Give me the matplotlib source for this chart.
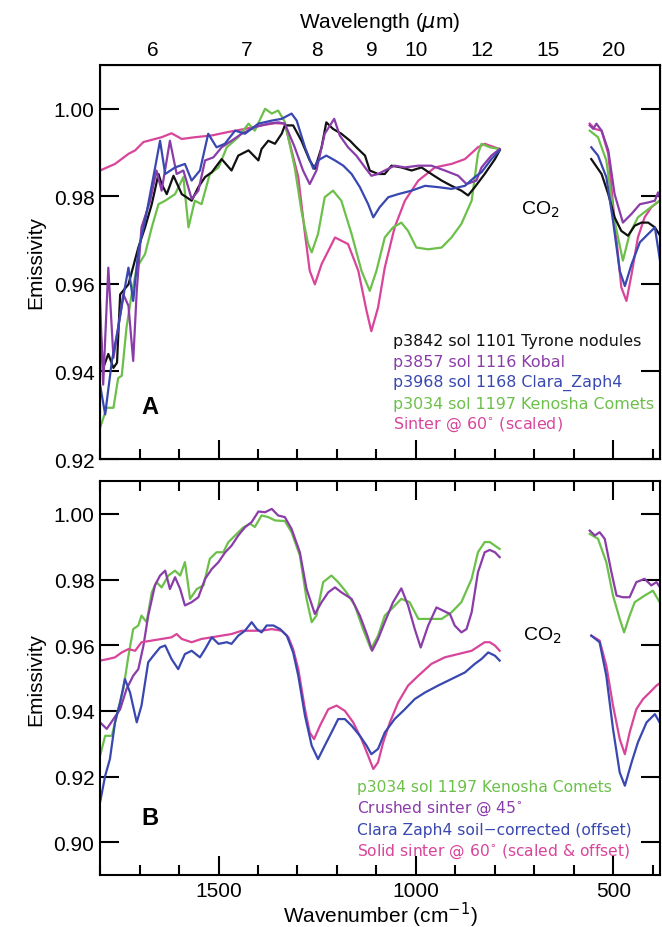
import numpy as np
import matplotlib
matplotlib.use("Agg")
from matplotlib import pyplot as plt
from matplotlib.ticker import MultipleLocator

plt.rcParams['font.family'] = ['Liberation Sans', 'DejaVu Sans']
plt.rcParams['mathtext.fontset'] = 'dejavusans'

nan = np.nan

# ---- panel A: rover spectra + sinter ----
tyrone_wn = [1800, 1792, 1779, 1766, 1757, 1749, 1728, 1703, 1686, 1669, 1652, 1644, 1631, 1614, 1593, 1568,
             1551, 1534, 1517, 1492, 1467, 1450, 1424, 1399, 1391, 1374, 1357, 1340, 1332, 1311, 1290, 1269,
             1256, 1239, 1227, 1210, 1189, 1167, 1151, 1129, 1117, 1096, 1079, 1062, 1037, 1011, 986, 961,
             935, 910, 885, 868, 851, 826, 800, 788, nan,
             556, 530, 513, 497, 480, 463, 446, 429, 412, 395, 379]
tyrone_e = [0.9508, 0.9408, 0.9440, 0.9408, 0.9420, 0.9576, 0.9599, 0.9683, 0.9729, 0.9782, 0.9851, 0.9828,
            0.9805, 0.9847, 0.9805, 0.9790, 0.9821, 0.9844, 0.9855, 0.9885, 0.9859, 0.9893, 0.9905, 0.9882,
            0.9908, 0.9927, 0.9920, 0.9943, 0.9962, 0.9962, 0.9927, 0.9882, 0.9863, 0.9912, 0.9969, 0.9954,
            0.9943, 0.9927, 0.9912, 0.9893, 0.9859, 0.9851, 0.9851, 0.9870, 0.9866, 0.9859, 0.9866, 0.9851,
            0.9836, 0.9824, 0.9813, 0.9802, 0.9821, 0.9851, 0.9885, 0.9905, nan,
            0.9885, 0.9851, 0.9805, 0.9752, 0.9721, 0.9710, 0.9733, 0.9740, 0.9740, 0.9729, 0.9706]

kobal_wn = [1800, 1792, 1779, 1766, 1754, 1741, 1728, 1716, 1707, 1695, 1673, 1657, 1644, 1623, 1606, 1589,
            1568, 1551, 1534, 1513, 1492, 1467, 1441, 1408, 1374, 1349, 1332, 1307, 1286, 1269, 1252, 1231,
            1207, 1193, 1172, 1151, 1129, 1113, 1096, 1079, 1054, 1028, 994, 961, 927, 893, 872, 847,
            834, 809, 788, nan,
            560, 551, 543, 530, 513, 497, 476, 454, 433, 412, 395, 387, 379]
kobal_e = [0.9561, 0.9370, 0.9637, 0.9431, 0.9500, 0.9576, 0.9550, 0.9424, 0.9584, 0.9729, 0.9790, 0.9859,
           0.9813, 0.9927, 0.9851, 0.9859, 0.9794, 0.9813, 0.9882, 0.9889, 0.9912, 0.9927, 0.9943, 0.9958,
           0.9966, 0.9969, 0.9966, 0.9912, 0.9859, 0.9828, 0.9859, 0.9943, 0.9977, 0.9939, 0.9912, 0.9893,
           0.9866, 0.9847, 0.9851, 0.9859, 0.9870, 0.9866, 0.9870, 0.9870, 0.9859, 0.9847, 0.9828, 0.9836,
           0.9866, 0.9893, 0.9908, nan,
           0.9962, 0.9954, 0.9966, 0.9950, 0.9905, 0.9805, 0.9740, 0.9760, 0.9782, 0.9786, 0.9790, 0.9809, 0.9790]

clara_wn = [1800, 1787, 1770, 1754, 1737, 1728, 1716, 1703, 1686, 1665, 1648, 1635, 1610, 1585, 1568, 1547,
            1526, 1505, 1484, 1458, 1433, 1399, 1365, 1340, 1315, 1302, 1281, 1260, 1248, 1227, 1205, 1184,
            1163, 1142, 1121, 1108, 1092, 1070, 1045, 1011, 977, 944, 910, 876, 851, 834, 809, 788, nan,
            556, 539, 518, 501, 484, 471, 454, 433, 412, 395, 382]
clara_e = [0.9370, 0.9302, 0.9424, 0.9500, 0.9592, 0.9637, 0.9561, 0.9676, 0.9744, 0.9844, 0.9927, 0.9851,
           0.9866, 0.9874, 0.9836, 0.9859, 0.9943, 0.9912, 0.9920, 0.9950, 0.9943, 0.9966, 0.9973, 0.9977,
           0.9989, 0.9973, 0.9912, 0.9863, 0.9882, 0.9893, 0.9882, 0.9870, 0.9851, 0.9821, 0.9782, 0.9752,
           0.9775, 0.9798, 0.9805, 0.9813, 0.9824, 0.9821, 0.9817, 0.9824, 0.9844, 0.9855, 0.9885, 0.9905, nan,
           0.9912, 0.9893, 0.9844, 0.9744, 0.9630, 0.9595, 0.9645, 0.9695, 0.9714, 0.9729, 0.9653]

kenoshaA_wn = [1800, 1783, 1766, 1754, 1745, 1733, 1720, 1707, 1686, 1669, 1652, 1635, 1610, 1589, 1576, 1560,
               1543, 1522, 1500, 1479, 1450, 1424, 1408, 1382, 1365, 1349, 1332, 1307, 1290, 1273, 1264, 1248,
               1231, 1210, 1189, 1163, 1138, 1117, 1100, 1079, 1058, 1037, 1020, 999, 969, 935, 910, 885,
               859, 843, 834, 813, 788, nan,
               560, 539, 518, 497, 476, 459, 438, 417, 395, 383]
kenoshaA_e = [0.9271, 0.9317, 0.9317, 0.9385, 0.9390, 0.9500, 0.9576, 0.9637, 0.9668, 0.9729, 0.9782, 0.9790,
              0.9805, 0.9844, 0.9729, 0.9790, 0.9782, 0.9851, 0.9866, 0.9912, 0.9935, 0.9966, 0.9950, 1.0000,
              0.9989, 0.9996, 0.9970, 0.9866, 0.9767, 0.9691, 0.9672, 0.9714, 0.9798, 0.9813, 0.9790, 0.9714,
              0.9630, 0.9584, 0.9630, 0.9706, 0.9729, 0.9740, 0.9721, 0.9683, 0.9679, 0.9683, 0.9706, 0.9737,
              0.9790, 0.9897, 0.9920, 0.9912, 0.9908, nan,
              0.9950, 0.9935, 0.9882, 0.9744, 0.9653, 0.9714, 0.9752, 0.9767, 0.9782, 0.9790]

sinterA_wn = [1800, 1762, 1728, 1711, 1690, 1644, 1619, 1593, 1560, 1517, 1475, 1433, 1391, 1357, 1332, 1298,
              1281, 1269, 1256, 1239, 1205, 1172, 1146, 1125, 1113, 1096, 1079, 1054, 1028, 994, 952, 910,
              876, 843, 826, 788, nan,
              560, 547, 530, 513, 497, 480, 467, 454, 438, 421, 404, 383]
sinterA_e = [0.9859, 0.9874, 0.9897, 0.9905, 0.9924, 0.9935, 0.9944, 0.9931, 0.9935, 0.9939, 0.9947, 0.9954,
             0.9962, 0.9967, 0.9966, 0.9844, 0.9714, 0.9630, 0.9599, 0.9645, 0.9706, 0.9691, 0.9630, 0.9538,
             0.9492, 0.9546, 0.9637, 0.9729, 0.9790, 0.9836, 0.9866, 0.9874, 0.9885, 0.9912, 0.9920, 0.9908, nan,
             0.9966, 0.9954, 0.9950, 0.9897, 0.9744, 0.9592, 0.9561, 0.9622, 0.9706, 0.9752, 0.9775, 0.9790]

# ---- panel B: Kenosha Comets vs sinter ----
kenoshaB_wn = [1800, 1787, 1770, 1754, 1741, 1728, 1716, 1703, 1695, 1682, 1669, 1657, 1644, 1627, 1610, 1597,
               1585, 1572, 1555, 1538, 1522, 1505, 1488, 1475, 1458, 1437, 1420, 1408, 1391, 1374, 1357, 1332,
               1315, 1294, 1277, 1264, 1252, 1235, 1214, 1197, 1176, 1155, 1134, 1114, 1096, 1079, 1062, 1037,
               1016, 994, 969, 935, 910, 885, 859, 843, 826, 813, 788, nan,
               560, 539, 518, 501, 484, 473, 459, 446, 421, 400, 383]
kenoshaB_e = [0.9263, 0.9324, 0.9324, 0.9405, 0.9466, 0.9568, 0.9649, 0.9660, 0.9690, 0.9670, 0.9761, 0.9792,
              0.9776, 0.9812, 0.9827, 0.9812, 0.9853, 0.9741, 0.9771, 0.9782, 0.9863, 0.9883, 0.9883, 0.9914,
              0.9934, 0.9959, 0.9970, 0.9960, 0.9995, 0.9990, 0.9980, 0.9978, 0.9944, 0.9873, 0.9741, 0.9670,
              0.9690, 0.9792, 0.9812, 0.9792, 0.9761, 0.9721, 0.9649, 0.9588, 0.9629, 0.9690, 0.9710, 0.9741,
              0.9731, 0.9680, 0.9680, 0.9680, 0.9700, 0.9731, 0.9802, 0.9883, 0.9914, 0.9914, 0.9893, nan,
              0.9939, 0.9924, 0.9853, 0.9751, 0.9680, 0.9639, 0.9690, 0.9731, 0.9751, 0.9766, 0.9731]

crushed_wn = [1800, 1783, 1766, 1749, 1733, 1716, 1703, 1690, 1678, 1661, 1648, 1635, 1623, 1610, 1597, 1585,
              1568, 1551, 1534, 1517, 1500, 1483, 1467, 1450, 1433, 1416, 1399, 1382, 1365, 1349, 1332, 1315,
              1294, 1277, 1256, 1239, 1222, 1205, 1189, 1163, 1142, 1123, 1111, 1096, 1079, 1058, 1037, 1020,
              1003, 988, 969, 948, 931, 914, 902, 885, 872, 859, 843, 826, 813, 800, 788, nan,
              560, 547, 535, 522, 505, 492, 476, 459, 442, 421, 404, 391, 379]
crushed_e = [0.9365, 0.9345, 0.9375, 0.9405, 0.9466, 0.9507, 0.9527, 0.9599, 0.9690, 0.9782, 0.9812, 0.9827,
             0.9771, 0.9807, 0.9771, 0.9721, 0.9731, 0.9746, 0.9802, 0.9832, 0.9853, 0.9883, 0.9903, 0.9934,
             0.9959, 0.9975, 1.0007, 1.0005, 1.0015, 0.9995, 0.9990, 0.9954, 0.9883, 0.9771, 0.9695, 0.9731,
             0.9761, 0.9776, 0.9761, 0.9741, 0.9690, 0.9629, 0.9583, 0.9619, 0.9670, 0.9731, 0.9773, 0.9721,
             0.9649, 0.9593, 0.9660, 0.9715, 0.9705, 0.9695, 0.9660, 0.9639, 0.9649, 0.9700, 0.9822, 0.9883,
             0.9890, 0.9883, 0.9868, nan,
             0.9949, 0.9934, 0.9944, 0.9924, 0.9822, 0.9751, 0.9746, 0.9746, 0.9792, 0.9802, 0.9782, 0.9792, 0.9771]

claraB_wn = [1800, 1787, 1775, 1762, 1749, 1737, 1724, 1707, 1695, 1678, 1665, 1648, 1635, 1619, 1602, 1585,
             1568, 1547, 1534, 1517, 1500, 1479, 1467, 1450, 1433, 1416, 1403, 1391, 1378, 1361, 1344, 1327,
             1311, 1298, 1281, 1264, 1248, 1231, 1214, 1197, 1180, 1163, 1142, 1125, 1113, 1096, 1079, 1054,
             1028, 1003, 977, 944, 910, 876, 851, 834, 817, 800, 788, nan,
             556, 535, 518, 501, 484, 471, 454, 438, 416, 395, 383]
claraB_e = [0.9121, 0.9202, 0.9253, 0.9365, 0.9426, 0.9497, 0.9456, 0.9365, 0.9416, 0.9548, 0.9568, 0.9593,
            0.9599, 0.9558, 0.9527, 0.9573, 0.9583, 0.9563, 0.9588, 0.9624, 0.9604, 0.9609, 0.9604, 0.9629,
            0.9644, 0.9670, 0.9649, 0.9639, 0.9660, 0.9660, 0.9649, 0.9629, 0.9578, 0.9507, 0.9385, 0.9294,
            0.9253, 0.9294, 0.9334, 0.9375, 0.9375, 0.9355, 0.9324, 0.9294, 0.9268, 0.9284, 0.9334, 0.9375,
            0.9405, 0.9436, 0.9456, 0.9477, 0.9497, 0.9517, 0.9543, 0.9558, 0.9578, 0.9568, 0.9553, nan,
            0.9629, 0.9609, 0.9507, 0.9345, 0.9212, 0.9172, 0.9243, 0.9304, 0.9365, 0.9390, 0.9365]

solid_wn = [1800, 1779, 1762, 1745, 1728, 1711, 1695, 1669, 1644, 1619, 1606, 1593, 1568, 1543, 1517, 1492,
            1467, 1441, 1416, 1391, 1365, 1340, 1323, 1311, 1298, 1281, 1269, 1258, 1243, 1222, 1201, 1180,
            1159, 1138, 1121, 1108, 1096, 1083, 1066, 1045, 1020, 994, 961, 927, 893, 859, 826, 813,
            800, 788, nan,
            556, 535, 518, 501, 484, 471, 459, 442, 425, 408, 391, 379]
solid_e = [0.9553, 0.9558, 0.9563, 0.9578, 0.9588, 0.9583, 0.9609, 0.9614, 0.9619, 0.9624, 0.9634, 0.9619,
           0.9609, 0.9619, 0.9624, 0.9629, 0.9634, 0.9644, 0.9644, 0.9644, 0.9649, 0.9644, 0.9624, 0.9588,
           0.9527, 0.9405, 0.9334, 0.9314, 0.9355, 0.9405, 0.9416, 0.9400, 0.9365, 0.9314, 0.9263, 0.9223,
           0.9243, 0.9304, 0.9365, 0.9426, 0.9477, 0.9507, 0.9543, 0.9563, 0.9573, 0.9583, 0.9609, 0.9609,
           0.9599, 0.9583, nan,
           0.9629, 0.9614, 0.9538, 0.9416, 0.9314, 0.9268, 0.9334, 0.9405, 0.9436, 0.9456, 0.9477, 0.9487]

wavelength_ticks = [6, 7, 8, 9, 10, 12, 15, 20]

BLACK = '#111111'
PURPLE = '#8a3ca8'
BLUE = '#3848b0'
GREEN = '#6cc04a'
PINK = '#d8459a'

labelsA = ['p3842 sol 1101 Tyrone nodules', 'p3857 sol 1116 Kobal', 'p3968 sol 1168 Clara_Zaph4',
           'p3034 sol 1197 Kenosha Comets', 'Sinter @ 60$^{\\circ}$ (scaled)']
labelsB = ['p3034 sol 1197 Kenosha Comets', 'Crushed sinter @ 45$^{\\circ}$',
           'Clara Zaph4 soil\u2212corrected (offset)', 'Solid sinter @ 60$^{\\circ}$ (scaled & offset)']

fig = plt.figure(figsize=(6.62, 9.28), dpi=100)
axA = fig.add_axes([0.1511, 0.5043, 0.8459, 0.4246])
axB = fig.add_axes([0.1511, 0.0560, 0.8459, 0.4246])


def style(ax, ylim, yticks):
    ax.set_xlim(1800, 382)
    ax.set_ylim(*ylim)
    ax.xaxis.set_major_locator(MultipleLocator(500))
    ax.xaxis.set_minor_locator(MultipleLocator(100))
    ax.set_yticks(yticks)
    ax.set_yticklabels(['%.2f' % v for v in yticks])
    ax.tick_params(which='major', direction='in', length=14, width=1.5,
                   top=True, right=True, labelsize=15, pad=4)
    ax.tick_params(axis='x', which='minor', direction='in', length=7, width=1.5, top=True, bottom=True)
    for s in ax.spines.values():
        s.set_linewidth(1.5)
    ax.set_ylabel('Emissivity', fontsize=15, labelpad=6)


lw = 1.6
axA.plot(sinterA_wn, sinterA_e, color=PINK, lw=lw)
axA.plot(kenoshaA_wn, kenoshaA_e, color=GREEN, lw=lw)
axA.plot(tyrone_wn, tyrone_e, color=BLACK, lw=lw)
axA.plot(kobal_wn, kobal_e, color=PURPLE, lw=lw)
axA.plot(clara_wn, clara_e, color=BLUE, lw=lw)
style(axA, (0.92, 1.01), [0.92, 0.94, 0.96, 0.98, 1.00])
axA.tick_params(axis='x', labelbottom=False)

axB.plot(kenoshaB_wn, kenoshaB_e, color=GREEN, lw=lw)
axB.plot(crushed_wn, crushed_e, color=PURPLE, lw=lw)
axB.plot(solid_wn, solid_e, color=PINK, lw=lw)
axB.plot(claraB_wn, claraB_e, color=BLUE, lw=lw)
style(axB, (0.89, 1.01), [0.90, 0.92, 0.94, 0.96, 0.98, 1.00])
axB.set_xlabel('Wavenumber (cm$^{-1}$)', fontsize=15, labelpad=0)

# wavelength scale on top of panel A
top = axA.twiny()
top.set_xlim(axA.get_xlim())
top.set_xticks([1e4 / l for l in wavelength_ticks])
top.set_xticklabels([str(l) for l in wavelength_ticks])
top.tick_params(axis='x', length=0, labelsize=15, pad=4)
top.set_xlabel('Wavelength ($\\mu$m)', fontsize=15, labelpad=10)

# legends as coloured text
for i, (txt, c) in enumerate(zip(labelsA, [BLACK, PURPLE, BLUE, GREEN, PINK])):
    axA.text(1058, 0.9470 - i * 0.00475, txt, color=c, fontsize=11.4, family='DejaVu Sans',
             va='center', ha='left')
for i, (txt, c) in enumerate(zip(labelsB, [GREEN, PURPLE, BLUE, PINK])):
    axB.text(1149, 0.9171 - i * 0.0066, txt, color=c, fontsize=11.2, family='DejaVu Sans',
             va='center', ha='left')

axA.text(684, 0.9771, 'CO$_2$', fontsize=14, ha='center', va='center')
axB.text(681, 0.9631, 'CO$_2$', fontsize=14, ha='center', va='center')
axA.text(1673, 0.9319, 'A', fontsize=17, fontweight='bold', ha='center', va='center')
axB.text(1673, 0.9076, 'B', fontsize=17, fontweight='bold', ha='center', va='center')

fig.savefig('out.png', dpi=100)
